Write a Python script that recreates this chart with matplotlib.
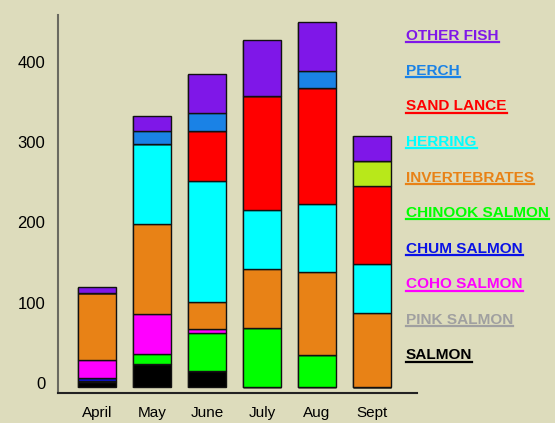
import matplotlib
matplotlib.use("Agg")
import matplotlib.pyplot as plt
import numpy as np
from matplotlib.transforms import ScaledTranslation
from matplotlib.lines import Line2D
import matplotlib.patheffects as pe

plt.rcParams['font.family'] = ['Liberation Sans', 'DejaVu Sans']

months = ['April', 'May', 'June', 'July', 'Aug', 'Sept']

# diet composition per month, stacked from the bottom up
salmon = [6, 29, 20, 0, 0, 0]
pink_salmon = [1.5, 0, 0, 0, 0, 0]
chum_salmon = [3.5, 0, 0, 0, 0, 0]
chinook_salmon = [0, 12, 47, 74, 40, 0]
coho_salmon = [23, 50, 5, 0, 0, 0]
invertebrates = [83, 112, 33.5, 73, 103, 92]
herring = [0, 100, 151.5, 73, 85, 61]
sand_lance = [0, 0, 62, 143, 145, 98]
unlisted = [0, 0, 0, 0, 0, 31]
perch = [0, 16, 22, 0, 21, 0]
other_fish = [7, 19, 49, 69, 61, 31]

yticks = [0, 100, 200, 300, 400]

stack = [
    ('SALMON', salmon, '#000000'),
    ('PINK SALMON', pink_salmon, '#a0a0a0'),
    ('CHUM SALMON', chum_salmon, '#0a12e6'),
    ('CHINOOK SALMON', chinook_salmon, '#00ff00'),
    ('COHO SALMON', coho_salmon, '#ff00ff'),
    ('INVERTEBRATES', invertebrates, '#e88216'),
    ('HERRING', herring, '#00ffff'),
    ('SAND LANCE', sand_lance, '#ff0000'),
    (None, unlisted, '#b8e81a'),
    ('PERCH', perch, '#1a82e6'),
    ('OTHER FISH', other_fish, '#7f17e8'),
]
legend_order = ['OTHER FISH', 'PERCH', 'SAND LANCE', 'HERRING', 'INVERTEBRATES',
                'CHINOOK SALMON', 'CHUM SALMON', 'COHO SALMON', 'PINK SALMON', 'SALMON']

bg = '#dddcbc'
fig = plt.figure(figsize=(5.55, 4.23), dpi=100, facecolor=bg)
ax = fig.add_axes([0.1045, 0.0709, 0.6469, 0.8936])
ax.set_facecolor(bg)

shadow = [pe.SimplePatchShadow(offset=(-1, -0.5), shadow_rgbFace='#707060', alpha=0.35),
          pe.Normal()]

x = np.arange(len(months))
bottom = np.zeros(len(months))
for name, vals, color in stack:
    vals = np.array(vals, dtype=float)
    bars = ax.bar(x, vals, width=0.69, bottom=bottom, color=color,
                  edgecolor='#111111', linewidth=1.0)
    for b in bars:
        b.set_path_effects(shadow)
    bottom += vals

ax.set_xlim(-0.71, 5.82)
ax.set_ylim(-7.5, 463.5)
ax.set_xticks(x)
ax.set_xticklabels(months, fontsize=11)
ax.set_yticks(yticks)
ax.set_yticklabels([str(v) for v in yticks], fontsize=12)
ax.tick_params(axis='both', length=0)
ax.tick_params(axis='x', pad=9)
ax.tick_params(axis='y', pad=9)
for lab in ax.get_yticklabels():
    lab.set_transform(lab.get_transform() + ScaledTranslation(0, 0.04, fig.dpi_scale_trans))

for s in ['top', 'right']:
    ax.spines[s].set_visible(False)
ax.spines['left'].set_color('#6a6a60')
ax.spines['left'].set_linewidth(1.5)
ax.spines['bottom'].set_color('#222222')
ax.spines['bottom'].set_linewidth(1.5)

# coloured, underlined legend labels on the right
colors = {name: color for name, vals, color in stack if name}
H = 423.0
texts = []
for i, name in enumerate(legend_order):
    ypix = 39.5 + i * 35.5
    t = fig.text(406 / 555.0, 1 - ypix / H, name, color=colors[name],
                 fontsize=11.1, fontweight='bold', ha='left', va='baseline')
    texts.append((t, ypix))

fig.canvas.draw()
renderer = fig.canvas.get_renderer()
for t, ypix in texts:
    bb = t.get_window_extent(renderer)
    yl = 1 - (ypix + 2.5) / H
    fig.add_artist(Line2D([bb.x0 / 555.0, bb.x1 / 555.0], [yl, yl],
                          color=t.get_color(), linewidth=1.6,
                          transform=fig.transFigure))

fig.savefig('out.png', dpi=100, facecolor=bg)
